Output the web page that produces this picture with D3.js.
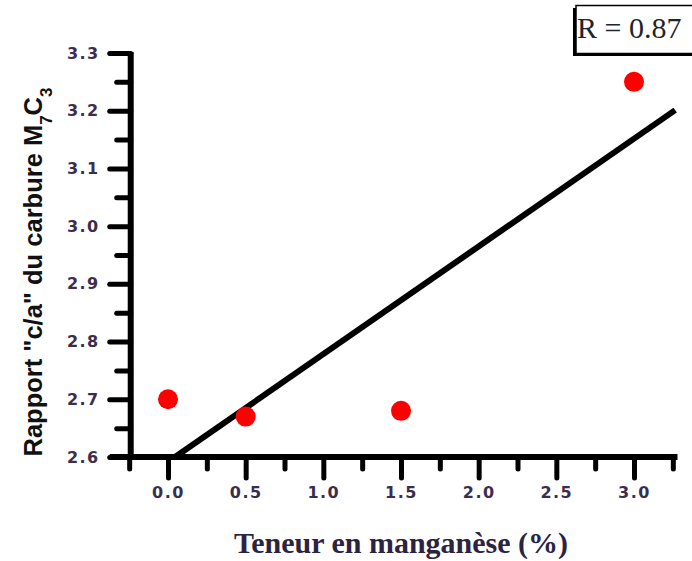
<!DOCTYPE html>
<html>
<head>
<meta charset="utf-8">
<script src="https://cdn.jsdelivr.net/npm/d3@7"></script>
<style>
  html, body { margin: 0; padding: 0; background: #fff; }
  svg { display: block; }
</style>
</head>
<body>
<svg id="chart" width="692" height="561"></svg>
<script>
// ---- data ----
const manganese = [0.0, 0.5, 1.5, 3.0];          // Teneur en manganèse (%)
const ratioCA   = [2.70, 2.67, 2.68, 3.25];       // Rapport c/a du carbure M7C3
const fitX      = [0.045, 3.265];                 // linear fit end points (x)
const fitY      = [2.600, 3.201];                 // linear fit end points (y)
const xTicks    = [0.0, 0.5, 1.0, 1.5, 2.0, 2.5, 3.0];
const xTickLabels = ["0.0", "0.5", "1.0", "1.5", "2.0", "2.5", "3.0"];
const xMinor    = [-0.25, 0.25, 0.75, 1.25, 1.75, 2.25, 2.75, 3.25];
const yTicks    = [2.6, 2.7, 2.8, 2.9, 3.0, 3.1, 3.2, 3.3];
const yTickLabels = ["2.6", "2.7", "2.8", "2.9", "3.0", "3.1", "3.2", "3.3"];
const yMinor    = [2.65, 2.75, 2.85, 2.95, 3.05, 3.15, 3.25];
const rLabel    = "R = 0.87";

// ---- scales ----
const svg = d3.select("#chart");
const x = d3.scaleLinear().domain([0, 3]).range([168, 634]);
const y = d3.scaleLinear().domain([2.6, 3.3]).range([457, 53]);
const xLo = -0.24, xHi = 3.28;
const axisColor = "#000";
const labelColor = "#3b2d4f";

// ---- regression line (drawn first, under points) ----
const fitPts = fitX.map((v, i) => [v, fitY[i]]);
svg.append("path")
  .attr("d", d3.line().x(d => x(d[0])).y(d => y(d[1]))(fitPts))
  .attr("fill", "none")
  .attr("stroke", "#000")
  .attr("stroke-width", 6)
  .attr("stroke-linecap", "butt");

// ---- axes ----
const gx = svg.append("g").attr("transform", `translate(0,${y(2.6)})`);
gx.append("g").call(d3.axisBottom(x).tickValues(xMinor).tickSize(12).tickFormat(""));
gx.append("g").call(d3.axisBottom(x).tickValues(xTicks).tickSize(21).tickPadding(9)
  .tickFormat((d, i) => xTickLabels[i]));

const gy = svg.append("g").attr("transform", `translate(${x(xLo)},0)`);
gy.append("g").call(d3.axisLeft(y).tickValues(yMinor).tickSize(14).tickFormat(""));
gy.append("g").call(d3.axisLeft(y).tickValues(yTicks).tickSize(21).tickPadding(10)
  .tickFormat((d, i) => yTickLabels[i]));

svg.selectAll(".domain").remove();
svg.selectAll(".tick line")
  .attr("stroke", axisColor)
  .attr("stroke-width", 5)
  .attr("stroke-linecap", "round");
svg.selectAll(".tick text")
  .attr("fill", labelColor)
  .style("font-family", "'DejaVu Sans', sans-serif")
  .style("font-weight", "bold")
  .style("font-size", "16px")
  .style("letter-spacing", "1.5px");

// axis lines
svg.append("line")
  .attr("x1", x(xLo) - 21).attr("x2", x(xHi))
  .attr("y1", y(2.6)).attr("y2", y(2.6))
  .attr("stroke", axisColor).attr("stroke-width", 6);
svg.append("line")
  .attr("x1", x(xLo)).attr("x2", x(xLo))
  .attr("y1", y(3.3) - 1).attr("y2", y(2.6))
  .attr("stroke", axisColor).attr("stroke-width", 6);

// ---- points ----
svg.append("g").selectAll("circle")
  .data(manganese.map((v, i) => [v, ratioCA[i]]))
  .join("circle")
  .attr("cx", d => x(d[0]))
  .attr("cy", d => y(d[1]))
  .attr("r", 10)
  .attr("fill", "#ff0000");

// ---- axis titles ----
svg.append("text")
  .attr("x", 401).attr("y", 553)
  .attr("text-anchor", "middle")
  .attr("fill", "#2b2340")
  .style("font-family", "'Liberation Serif', 'Times New Roman', serif")
  .style("font-weight", "bold")
  .style("font-size", "30px")
  .text("Teneur en manganèse (%)");

const yt = svg.append("text")
  .attr("transform", "translate(42,272) rotate(-90)")
  .attr("text-anchor", "middle")
  .attr("fill", "#111")
  .style("font-family", "'Liberation Sans', Arial, sans-serif")
  .style("font-weight", "bold")
  .style("font-size", "25.5px");
yt.append("tspan").text("Rapport \"c/a\" du carbure M");
yt.append("tspan").attr("baseline-shift", "sub").style("font-size", "17px").text("7");
yt.append("tspan").text("C");
yt.append("tspan").attr("baseline-shift", "sub").style("font-size", "17px").text("3");

// ---- R box ----
svg.append("rect")
  .attr("x", 573).attr("y", 8).attr("width", 140).attr("height", 48)
  .attr("fill", "#000");
svg.append("rect")
  .attr("x", 576).attr("y", 5.5).attr("width", 140).attr("height", 48)
  .attr("fill", "#fff").attr("stroke", "#000").attr("stroke-width", 1.5);
svg.append("text")
  .attr("x", 577).attr("y", 38)
  .attr("fill", "#1e2430")
  .style("font-family", "'Liberation Serif', 'Times New Roman', serif")
  .style("font-size", "30px")
  .text(rLabel);
</script>
</body>
</html>
